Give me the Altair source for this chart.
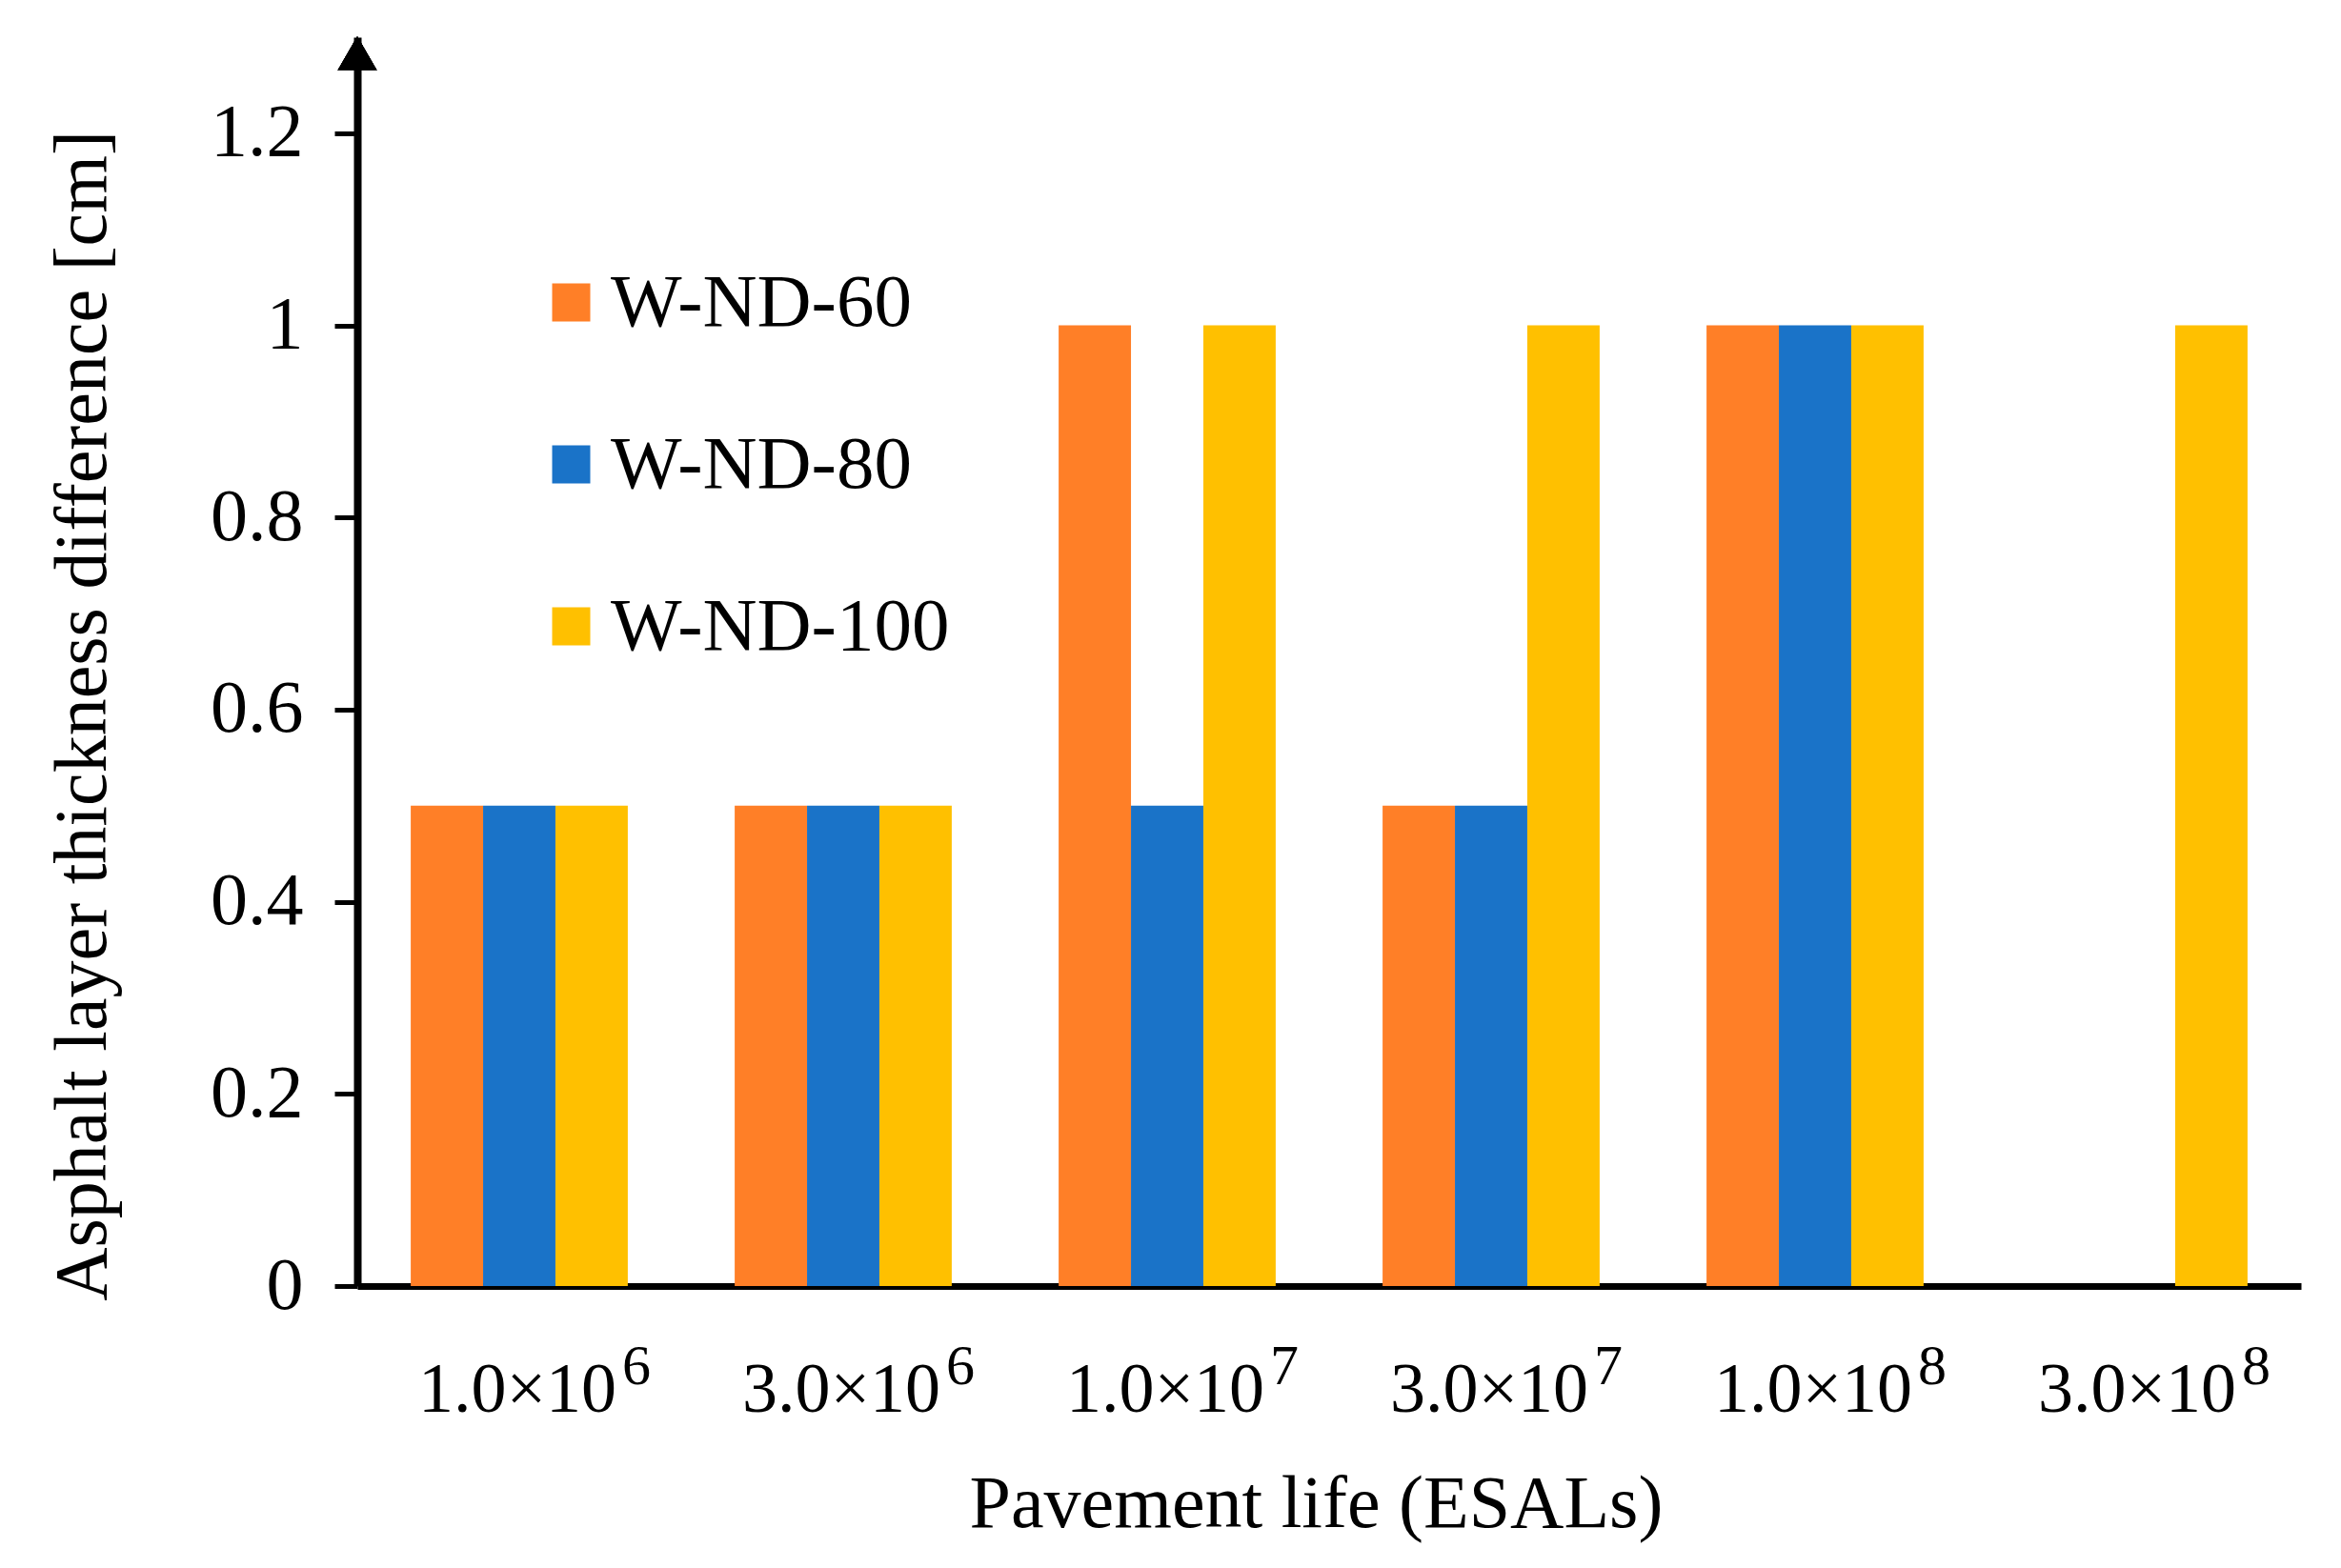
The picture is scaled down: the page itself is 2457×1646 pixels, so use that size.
import altair as alt
import pandas as pd

# ---- data ----
categories = ["1.0×10^6", "3.0×10^6", "1.0×10^7", "3.0×10^7", "1.0×10^8", "3.0×10^8"]
label_base = ["1.0×10", "3.0×10", "1.0×10", "3.0×10", "1.0×10", "3.0×10"]
label_exp = ["6", "6", "7", "7", "8", "8"]
series = ["W-ND-60", "W-ND-80", "W-ND-100"]
w_nd_60 = [0.5, 0.5, 1.0, 0.5, 1.0, 0.0]
w_nd_80 = [0.5, 0.5, 0.5, 0.5, 1.0, 0.0]
w_nd_100 = [0.5, 0.5, 1.0, 1.0, 1.0, 1.0]
colors = ["#FF7F27", "#1A73C8", "#FFC000"]
y_ticks = [0, 0.2, 0.4, 0.6, 0.8, 1, 1.2]

rows = []
for s, vals in zip(series, [w_nd_60, w_nd_80, w_nd_100]):
    for c, v in zip(categories, vals):
        rows.append({"cat": c, "series": s, "value": v})
df = pd.DataFrame(rows)
lab = pd.DataFrame({"cat": categories, "base": label_base, "exp": label_exp})

FONT = "Liberation Serif"
W, H = 2040, 1311

xscale = alt.Scale(domain=categories, paddingInner=0.33, paddingOuter=0.165)

bars = alt.Chart(df).mark_bar().encode(
    x=alt.X("cat:N", scale=xscale, sort=categories,
            axis=alt.Axis(title="Pavement life (ESALs)", labels=False, ticks=False,
                          domainColor="black", domainWidth=7,
                          titleFont=FONT, titleFontSize=78, titleFontWeight="normal",
                          titleColor="black", titleX=1006, titleY=252,
                          titleAlign="center", titleBaseline="alphabetic")),
    xOffset=alt.XOffset("series:N", sort=series,
                        scale=alt.Scale(domain=series, paddingInner=0, paddingOuter=0)),
    y=alt.Y("value:Q", scale=alt.Scale(domain=[0, 1.3], nice=False),
            axis=alt.Axis(title="Asphalt layer thickness difference [cm]", values=y_ticks,
                          format="~g", grid=False,
                          domainColor="black", domainWidth=8,
                          tickColor="black", tickWidth=5, tickSize=24,
                          labelFont=FONT, labelFontSize=78, labelColor="black",
                          labelPadding=33,
                          titleFont=FONT, titleFontSize=78, titleFontWeight="normal",
                          titleColor="black", titleAngle=270, titleX=-265, titleY=712,
                          titleAlign="center", titleBaseline="alphabetic")),
    color=alt.Color("series:N", sort=series,
                    scale=alt.Scale(domain=series, range=colors),
                    legend=alt.Legend(title=None, orient="none", legendX=185, legendY=239,
                                      symbolType="square", symbolSize=1600,
                                      symbolStrokeWidth=0, symbolOpacity=1,
                                      labelFont=FONT, labelFontSize=79, labelColor="black",
                                      labelOffset=2, rowPadding=90, padding=0,
                                      labelLimit=600)),
)

base_text = alt.Chart(lab).mark_text(
    font=FONT, fontSize=74, color="black", baseline="alphabetic", align="center", dx=-2
).encode(
    x=alt.X("cat:N", sort=categories),
    y=alt.value(1443),
    text="base:N",
)

exp_text = alt.Chart(lab).mark_text(
    font=FONT, fontSize=60, color="black", baseline="alphabetic", align="left", dx=108
).encode(
    x=alt.X("cat:N", sort=categories),
    y=alt.value(1414),
    text="exp:N",
)

arrow = alt.Chart(lab).mark_point(
    shape="triangle-up", filled=True, color="black", opacity=1, size=1681
).encode(x=alt.value(0), y=alt.value(17))

chart = alt.layer(bars, base_text, exp_text, arrow).properties(
    width=W, height=H,
    background="white",
    autosize=alt.AutoSizeParams(type="none"),
    padding={"left": 367, "top": 31, "right": 34, "bottom": 290},
).configure_view(strokeWidth=0, stroke="transparent")

chart.save("out.html", embed_options={"renderer": "svg", "actions": False})
